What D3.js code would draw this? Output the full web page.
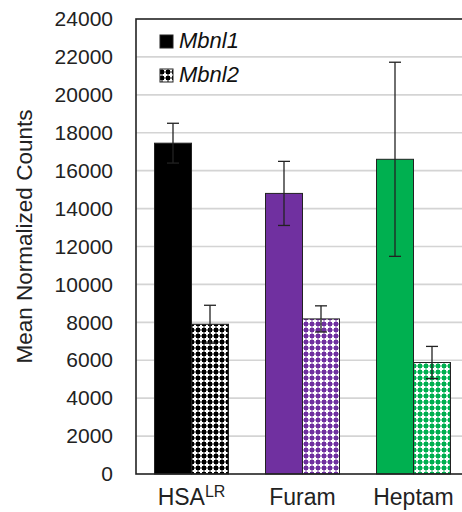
<!DOCTYPE html>
<html>
<head>
<meta charset="utf-8">
<script src="https://cdn.jsdelivr.net/npm/d3@7"></script>
<style>
  html, body { margin: 0; padding: 0; background: #fff; }
  svg { display: block; font-family: Arial, "Liberation Sans", sans-serif; }
</style>
</head>
<body>
<svg id="chart" width="462" height="512"></svg>
<script>
// Treatment groups and the two transcripts measured in each
const groups = ["HSA", "Furam", "Heptam"];
const groupSup = ["LR", "", ""];
const series = ["Mbnl1", "Mbnl2"];
const groupColors = ["#000000", "#7030a0", "#00b050"];

// Mean normalized counts and their error (±)
const mbnl1Mean = [17450, 14800, 16600];
const mbnl1Err  = [1050, 1690, 5120];
const mbnl2Mean = [7900, 8180, 5880];
const mbnl2Err  = [1000, 690, 850];

const yTicks = [0, 2000, 4000, 6000, 8000, 10000, 12000, 14000, 16000, 18000, 20000, 22000, 24000];

const svg = d3.select("#chart");
const plot = { left: 136, top: 19, right: 469, bottom: 474 };

const y = d3.scaleLinear().domain([0, 24000]).range([plot.bottom, plot.top]);
const x = d3.scaleBand().domain(groups).range([plot.left, plot.right])
  .paddingInner(1 / 3).paddingOuter(1 / 6);
const xs = d3.scaleBand().domain(series).range([0, x.bandwidth()]);

// Checker patterns (coloured ground with small white crosses)
const defs = svg.append("defs");
function checker(id, color) {
  const p = defs.append("pattern").attr("id", id)
    .attr("patternUnits", "userSpaceOnUse").attr("width", 6).attr("height", 6);
  p.append("rect").attr("width", 6).attr("height", 6).attr("fill", color);
  p.append("rect").attr("x", 0.5).attr("y", 2).attr("width", 5).attr("height", 2).attr("fill", "#fff");
  p.append("rect").attr("x", 2).attr("y", 0.5).attr("width", 2).attr("height", 5).attr("fill", "#fff");
}
groupColors.forEach((c, i) => checker("chk" + i, c));

// Gridlines
svg.append("g").selectAll("line").data(yTicks.filter(d => d > 0 && d < 24000)).join("line")
  .attr("x1", plot.left).attr("x2", plot.right)
  .attr("y1", d => y(d)).attr("y2", d => y(d))
  .attr("stroke", "#d4d4d4").attr("stroke-width", 1.6);

// Y axis tick labels
const yAxis = svg.append("g").attr("transform", `translate(${plot.left},0)`)
  .call(d3.axisLeft(y).tickValues(yTicks).tickFormat(d3.format("d")).tickSize(0).tickPadding(23));
yAxis.select(".domain").remove();
yAxis.selectAll("text").attr("font-size", 21).attr("fill", "#222")
  .attr("font-family", "Arial, 'Liberation Sans', sans-serif");

// Bars
const rows = groups.map((g, i) => [
  { g, i, s: "Mbnl1", v: mbnl1Mean[i], e: mbnl1Err[i], fill: groupColors[i] },
  { g, i, s: "Mbnl2", v: mbnl2Mean[i], e: mbnl2Err[i], fill: `url(#chk${i})` }
]).flat();

const bars = svg.append("g");
bars.selectAll("rect").data(rows).join("rect")
  .attr("x", d => x(d.g) + xs(d.s))
  .attr("y", d => y(d.v))
  .attr("width", xs.bandwidth())
  .attr("height", d => y(0) - y(d.v))
  .attr("fill", d => d.fill)
  .attr("stroke", "#222").attr("stroke-width", 1);

// Error bars
const eb = svg.append("g").attr("stroke", "#222").attr("stroke-width", 1.3);
rows.forEach(d => {
  const cx = x(d.g) + xs(d.s) + xs.bandwidth() / 2;
  eb.append("line").attr("x1", cx).attr("x2", cx).attr("y1", y(d.v + d.e)).attr("y2", y(d.v - d.e));
  [d.v + d.e, d.v - d.e].forEach(v => {
    eb.append("line").attr("x1", cx - 6).attr("x2", cx + 6).attr("y1", y(v)).attr("y2", y(v));
  });
});

// Plot frame
svg.append("rect").attr("x", plot.left).attr("y", plot.top)
  .attr("width", plot.right - plot.left).attr("height", plot.bottom - plot.top)
  .attr("fill", "none").attr("stroke", "#222").attr("stroke-width", 1.6);

// X category labels
const xl = svg.append("g").selectAll("text").data(groups).join("text")
  .attr("x", d => x(d) + x.bandwidth() / 2)
  .attr("y", 505)
  .attr("text-anchor", "middle")
  .attr("font-size", 23).attr("fill", "#222");
xl.append("tspan").text(d => d);
xl.append("tspan").text((d, i) => groupSup[i])
  .attr("font-size", 16).attr("dy", -8);

// Y axis title
svg.append("text")
  .attr("transform", `translate(32,${(plot.top + plot.bottom) / 2 - 10}) rotate(-90)`)
  .attr("text-anchor", "middle")
  .attr("font-size", 22.5).attr("fill", "#222")
  .text("Mean Normalized Counts");

// Legend
const legend = svg.append("g");
series.forEach((s, i) => {
  const ly = 35 + i * 34;
  legend.append("rect").attr("x", 160).attr("y", ly).attr("width", 13).attr("height", 13)
    .attr("fill", i === 0 ? "#000" : "url(#chk0)")
    .attr("stroke", "#222").attr("stroke-width", 1);
  legend.append("text").attr("x", 179).attr("y", ly + 13)
    .attr("font-size", 22).attr("font-style", "italic").attr("fill", "#111")
    .text(s);
});
</script>
</body>
</html>
